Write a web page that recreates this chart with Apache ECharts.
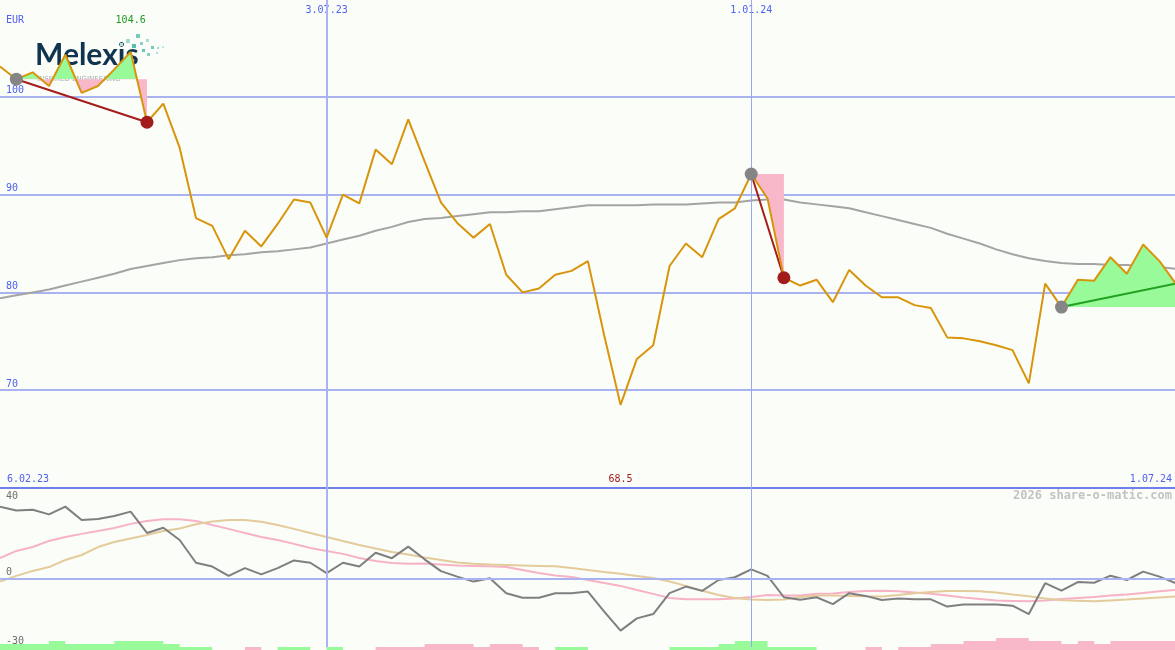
<!DOCTYPE html>
<html><head><meta charset="utf-8">
<script src="https://cdn.jsdelivr.net/npm/echarts@6/dist/echarts.min.js"></script>
<style>html,body{margin:0;padding:0;background:#fbfdf9}#c{width:1175px;height:650px}</style>
</head><body><div id="c"></div>
<script>
// ---- data (weekly, week index counted from 6.02.23) ----
const firstWeek = 1;
const price = [
  103.1, 101.8, 102.5, 101.1, 104.3, 100.4, 101.1, 102.8, 104.6, 97.4,
  99.3, 94.8, 87.6, 86.8, 83.4, 86.3, 84.7, 87.0, 89.5, 89.2,
  85.6, 90.0, 89.1, 94.6, 93.1, 97.7, 93.4, 89.2, 87.1, 85.6,
  87.0, 81.8, 80.0, 80.4, 81.8, 82.2, 83.2, 75.6, 68.5, 73.2,
  74.6, 82.7, 85.0, 83.6, 87.5, 88.6, 92.1, 89.6, 81.5, 80.7,
  81.3, 79.0, 82.3, 80.7, 79.5, 79.5, 78.7, 78.4, 75.4, 75.3,
  75.0, 74.6, 74.1, 70.7, 80.9, 78.5, 81.3, 81.2, 83.6, 81.9,
  84.9, 83.2, 80.9
];
const movingAvg = [
  79.4, 79.7, 80.0, 80.3, 80.7, 81.1, 81.5, 81.9, 82.4, 82.7,
  83.0, 83.3, 83.5, 83.6, 83.8, 83.9, 84.1, 84.2, 84.4, 84.6,
  85.0, 85.4, 85.8, 86.3, 86.7, 87.2, 87.5, 87.6, 87.8, 88.0,
  88.2, 88.2, 88.3, 88.3, 88.5, 88.7, 88.9, 88.9, 88.9, 88.9,
  89.0, 89.0, 89.0, 89.1, 89.2, 89.2, 89.4, 89.5, 89.5, 89.2,
  89.0, 88.8, 88.6, 88.2, 87.8, 87.4, 87.0, 86.6, 86.0, 85.5,
  85.0, 84.4, 83.9, 83.5, 83.2, 83.0, 82.9, 82.9, 82.8, 82.8,
  82.7, 82.6, 82.4
];
const momentum = [
  31.8, 30.1, 30.4, 28.4, 31.8, 25.9, 26.4, 27.7, 29.6, 20.2,
  22.5, 17.1, 7.1, 5.4, 1.3, 4.7, 2.0, 4.7, 8.1, 7.1,
  2.5, 7.1, 5.4, 11.5, 9.1, 14.2, 8.6, 3.4, 1.0, -1.2,
  0.3, -6.3, -8.3, -8.3, -6.3, -6.3, -5.6, -14.4, -22.8, -17.4,
  -15.5, -6.3, -3.4, -5.3, -0.5, 0.7, 4.2, 1.3, -8.1, -9.2,
  -8.1, -11.1, -6.3, -7.5, -9.3, -8.7, -9.0, -9.0, -12.2, -11.3,
  -11.3, -11.3, -11.8, -15.5, -1.9, -5.2, -1.4, -1.7, 1.4, -0.5,
  3.2, 1.0, -1.9
];
const signalLine = [
  9.1, 12.3, 14.0, 16.7, 18.4, 19.8, 21.1, 22.4, 24.2, 25.5,
  26.2, 26.2, 25.5, 23.7, 22.0, 20.2, 18.4, 17.1, 15.4, 13.6,
  12.3, 11.0, 9.2, 7.9, 7.0, 6.6, 6.8, 6.3, 5.9, 5.7,
  5.5, 5.2, 3.9, 2.6, 1.5, 0.8, -0.5, -1.8, -3.1, -4.9,
  -6.6, -8.4, -9.0, -9.0, -9.0, -8.6, -8.0, -7.1, -7.3, -7.3,
  -6.6, -6.4, -5.8, -5.3, -5.2, -5.5, -6.0, -6.6, -7.3, -8.2,
  -8.9, -9.5, -9.7, -9.9, -9.5, -8.9, -8.4, -8.0, -7.3, -6.9,
  -6.2, -5.5, -4.9
];
const slowLine = [
  -1.2, 1.3, 3.5, 5.2, 8.3, 10.5, 14.0, 16.2, 17.8, 19.3,
  21.1, 22.2, 24.0, 25.3, 25.9, 25.9, 25.1, 23.7, 22.0, 20.2,
  18.4, 16.7, 14.9, 13.4, 11.8, 10.7, 9.4, 8.3, 7.2, 6.6,
  6.3, 6.1, 5.9, 5.7, 5.5, 4.8, 3.9, 3.0, 2.2, 1.3,
  0.4, -1.2, -3.1, -5.2, -7.1, -8.4, -9.1, -9.3, -9.1, -8.0,
  -7.3, -7.3, -7.5, -7.7, -7.8, -7.1, -6.3, -5.8, -5.3, -5.3,
  -5.5, -6.0, -6.9, -7.7, -8.6, -9.4, -9.6, -9.9, -9.5, -9.1,
  -8.6, -8.2, -7.8
];
const histogram = [
  2, 2, 2, 3, 2, 2, 2, 3, 3, 3,
  2, 1, 1, 0, 0, -1, 0, 1, 1, 0,
  1, 0, 0, -1, -1, -1, -2, -2, -2, -1,
  -2, -2, -1, 0, 1, 1, 0, 0, 0, 0,
  0, 1, 1, 1, 2, 3, 3, 1, 1, 1,
  0, 0, 0, -1, 0, -1, -1, -2, -2, -3,
  -3, -4, -4, -3, -3, -2, -3, -2, -3, -3,
  -3, -3, -3
];
const signalStarts = [2, 47, 66];
const signalEnds = [10, 49, 73];
const signalOpen = [false, false, true];
const dateTickWeeks = [21, 47];
const dateTickLabels = ['3.07.23', '1.01.24'];
const rangeLabels = ['6.02.23', '1.07.24'];
const priceTicks = [70, 80, 90, 100];
const oscTicks = [-30, 0, 40];
const currency = 'EUR';
const watermark = '2026 share-o-matic.com';

// ---- helpers ----
const pts = arr => arr.map((v, i) => [firstWeek + i, v]);
const pAt = w => price[w - firstWeek];
const maxV = Math.max(...price), minV = Math.min(...price);
const maxWeek = firstWeek + price.indexOf(maxV);
const minWeek = firstWeek + price.indexOf(minV);

const X0 = 1.0, X1 = 72.95;
const MONO = 'DejaVu Sans Mono';
const BLUE = '#4f5ff0';
const GRIDC = '#a9b3f2';
const GREEN = '#98fa98', PINK = '#f9b7ca';

const series = [];
const visualMaps = [];

// MA + vertical date lines (top panel)
series.push({
  type: 'line', xAxisIndex: 0, yAxisIndex: 0, data: pts(movingAvg), symbol: 'none', z: 2,
  lineStyle: { color: '#a4a4a4', width: 2 }, silent: true,
  markLine: { silent: true, symbol: ['none', 'none'], label: { show: false },
    data: dateTickWeeks.map((w, i) => ({ xAxis: w, lineStyle: { color: i === 0 ? GRIDC : '#9aa6f2', width: i === 0 ? 2 : 1, type: 'solid' } })) }
});
// signal fills
signalStarts.forEach((s, k) => {
  const e = signalEnds[k];
  const base = pAt(s);
  const idx = series.length;
  series.push({
    type: 'line', xAxisIndex: 0, yAxisIndex: 0, symbol: 'none', z: 3, silent: true,
    data: pts(price).slice(s - firstWeek, e - firstWeek + 1),
    lineStyle: { width: 0, opacity: 0 },
    areaStyle: { origin: base, opacity: 1 }
  });
  visualMaps.push({ type: 'piecewise', show: false, seriesIndex: idx, dimension: 1,
    pieces: [{ gte: base, lte: 1000, color: GREEN }, { gte: -1000, lt: base, color: PINK }],
    outOfRange: { color: PINK } });
});
// trend segments
signalStarts.forEach((s, k) => {
  const e = signalEnds[k];
  const up = pAt(e) >= pAt(s);
  series.push({
    type: 'line', xAxisIndex: 0, yAxisIndex: 0, symbol: 'none', z: 4, silent: true,
    data: [[s, pAt(s)], [e, pAt(e)]],
    lineStyle: { color: up ? '#22a022' : '#a41c1c', width: 2 }
  });
});
// price line
series.push({
  type: 'line', xAxisIndex: 0, yAxisIndex: 0, data: pts(price), symbol: 'none', z: 5,
  lineStyle: { color: '#d8950c', width: 2 }
});
// markers
series.push({
  type: 'scatter', xAxisIndex: 0, yAxisIndex: 0, z: 6, symbolSize: 13,
  itemStyle: { color: '#858585', opacity: 1 },
  data: signalStarts.map(s => [s, pAt(s)])
});
series.push({
  type: 'scatter', xAxisIndex: 0, yAxisIndex: 0, z: 6, symbolSize: 13,
  itemStyle: { color: '#a31c1c', opacity: 1 },
  data: signalEnds.filter((e, k) => !signalOpen[k]).map(e => [e, pAt(e)])
});
// bottom panel
series.push({ type: 'line', xAxisIndex: 2, yAxisIndex: 1, data: pts(signalLine), symbol: 'none', z: 3,
  lineStyle: { color: '#f7b2c6', width: 2 } });
series.push({ type: 'line', xAxisIndex: 2, yAxisIndex: 1, data: pts(slowLine), symbol: 'none', z: 3,
  lineStyle: { color: '#e3cb9b', width: 2 } });
series.push({ type: 'line', xAxisIndex: 2, yAxisIndex: 1, data: pts(momentum), symbol: 'none', z: 4,
  lineStyle: { color: '#7f7f7f', width: 2 },
  markLine: { silent: true, symbol: ['none', 'none'], label: { show: false },
    data: dateTickWeeks.map((w, i) => ({ xAxis: w, lineStyle: { color: i === 0 ? GRIDC : '#9aa6f2', width: i === 0 ? 2 : 1, type: 'solid' } }))
      .concat([{ yAxis: 0, lineStyle: { color: GRIDC, width: 2, type: 'solid' } }]) } });
// histogram (step areas)
series.push({ type: 'line', xAxisIndex: 3, yAxisIndex: 2, step: 'end', symbol: 'none', z: 2, silent: true,
  data: pts(histogram.map(v => v > 0 ? v : 0)), lineStyle: { width: 0, opacity: 0 },
  areaStyle: { color: GREEN, opacity: 1, origin: 'start' } });
series.push({ type: 'line', xAxisIndex: 3, yAxisIndex: 2, step: 'end', symbol: 'none', z: 2, silent: true,
  data: pts(histogram.map(v => v < 0 ? -v : 0)), lineStyle: { width: 0, opacity: 0 },
  areaStyle: { color: PINK, opacity: 1, origin: 'start' } });

const hidden = { axisLine: { show: false }, axisTick: { show: false }, axisLabel: { show: false }, splitLine: { show: false } };

const option = {
  animation: false,
  backgroundColor: '#fbfdf9',
  textStyle: { fontFamily: MONO },
  title: [
    { text: currency, left: 6, top: 15, padding: 0, textStyle: { color: BLUE, fontSize: 10, fontWeight: 'normal', fontFamily: MONO } },
    { text: watermark, right: 3, top: 490, padding: 0, textStyle: { color: '#c3c3c3', fontSize: 12, fontWeight: 'bold', fontFamily: MONO } }
  ],
  grid: [
    { left: 0, right: 0, top: -1, height: 489, containLabel: false, outerBoundsMode: 'none' },
    { left: 0, right: 0, top: 488, height: 159, containLabel: false, outerBoundsMode: 'none' },
    { left: 0, right: 0, top: 488, height: 162, containLabel: false, outerBoundsMode: 'none' }
  ],
  xAxis: [
    { type: 'value', gridIndex: 0, position: 'bottom', min: X0, max: X1,
      axisLine: { show: true, lineStyle: { color: '#6f7fe9', width: 2 } }, axisTick: { show: false }, splitLine: { show: false },
      axisLabel: { inside: true, margin: 4, customValues: [X0, minWeek, X1], fontFamily: MONO, fontSize: 10,
        alignMinLabel: 'left', alignMaxLabel: 'right',
        formatter: v => v === minWeek ? '{mn|' + minV.toFixed(1) + '}' : (v === X0 ? '{st|' + rangeLabels[0] + '}' : '{en|' + rangeLabels[1] + '}'),
        rich: { mn: { color: '#a31d1d', fontFamily: MONO, fontSize: 10 },
                st: { color: BLUE, fontFamily: MONO, fontSize: 10, padding: [0, 0, 0, 7] },
                en: { color: BLUE, fontFamily: MONO, fontSize: 10, padding: [0, 3, 0, 0] } } } },
    { type: 'value', gridIndex: 0, position: 'top', min: X0, max: X1,
      axisLine: { show: false }, axisTick: { show: false }, splitLine: { show: false },
      axisLabel: { inside: true, margin: 6, customValues: [maxWeek].concat(dateTickWeeks), fontFamily: MONO, fontSize: 10,
        formatter: v => v === maxWeek ? '{mx|' + maxV.toFixed(1) + '}' : '{dt|' + dateTickLabels[dateTickWeeks.indexOf(v)] + '}',
        rich: { mx: { color: '#1f9a1f', fontFamily: MONO, fontSize: 10, padding: [10, 0, 0, 0] },
                dt: { color: BLUE, fontFamily: MONO, fontSize: 10 } } } },
    Object.assign({ type: 'value', gridIndex: 1, min: X0, max: X1 }, hidden),
    Object.assign({ type: 'value', gridIndex: 2, min: X0, max: X1 }, hidden)
  ],
  yAxis: [
    { type: 'value', gridIndex: 0, min: 60, max: 110, interval: 10,
      axisLine: { show: false }, axisTick: { show: false },
      splitLine: { show: true, lineStyle: { color: GRIDC, width: 2 } },
      axisLabel: { inside: true, margin: 6, customValues: priceTicks, verticalAlign: 'bottom', color: BLUE,
        fontFamily: MONO, fontSize: 10, padding: [0, 0, 1, 0] } },
    { type: 'value', gridIndex: 1, min: -30, max: 40,
      axisLine: { show: false }, axisTick: { show: false }, splitLine: { show: false },
      axisLabel: { inside: true, margin: 6, customValues: oscTicks, verticalAlign: 'bottom', verticalAlignMaxLabel: 'top',
        color: '#6e6e6e', fontFamily: MONO, fontSize: 10, padding: [3, 0, 1, 0] } },
    Object.assign({ type: 'value', gridIndex: 2, min: 0, max: 54 }, hidden)
  ],
  visualMap: visualMaps,
  graphic: [{
    type: 'group', left: 35, top: 34, z: 0, silent: true,
    children: [
      { type: 'text', left: 0, top: 6, z: 0, style: { text: 'Melexis', fill: '#10344f', font: 'bold 30px Lato' } },
      { type: 'text', left: 2, top: 42, z: 0, style: { text: 'INSPIRED ENGINEERING', fill: '#a9aeb2', font: '7px "DejaVu Sans"' } },
      { type: 'rect', shape: { x: 101, y: 0, width: 4, height: 4 }, style: { fill: '#79c9bf' } },
      { type: 'rect', shape: { x: 91, y: 5, width: 4, height: 4 }, style: { fill: '#9fd9d1' } },
      { type: 'rect', shape: { x: 85, y: 9, width: 3, height: 3 }, style: { fill: '#b4e1db' } },
      { type: 'rect', shape: { x: 97, y: 10, width: 4, height: 4 }, style: { fill: '#5fbcb2' } },
      { type: 'rect', shape: { x: 105, y: 8, width: 3, height: 3 }, style: { fill: '#8ed0c7' } },
      { type: 'rect', shape: { x: 111, y: 5, width: 3, height: 3 }, style: { fill: '#a8dcd5' } },
      { type: 'rect', shape: { x: 116, y: 12, width: 3, height: 3 }, style: { fill: '#7cc7be' } },
      { type: 'rect', shape: { x: 122, y: 13, width: 2, height: 2 }, style: { fill: '#9fd6cf' } },
      { type: 'rect', shape: { x: 127, y: 12, width: 2, height: 2 }, style: { fill: '#c2e6e1' } },
      { type: 'rect', shape: { x: 107, y: 15, width: 3, height: 3 }, style: { fill: '#6bc1b7' } },
      { type: 'rect', shape: { x: 112, y: 19, width: 3, height: 3 }, style: { fill: '#88ccc3' } },
      { type: 'rect', shape: { x: 121, y: 18, width: 2, height: 2 }, style: { fill: '#b5e0da' } }
    ]
  }],
  series: series
};

const chart = echarts.init(document.getElementById('c'), null, { renderer: 'canvas' });
chart.setOption(option);
</script>
</body></html>
